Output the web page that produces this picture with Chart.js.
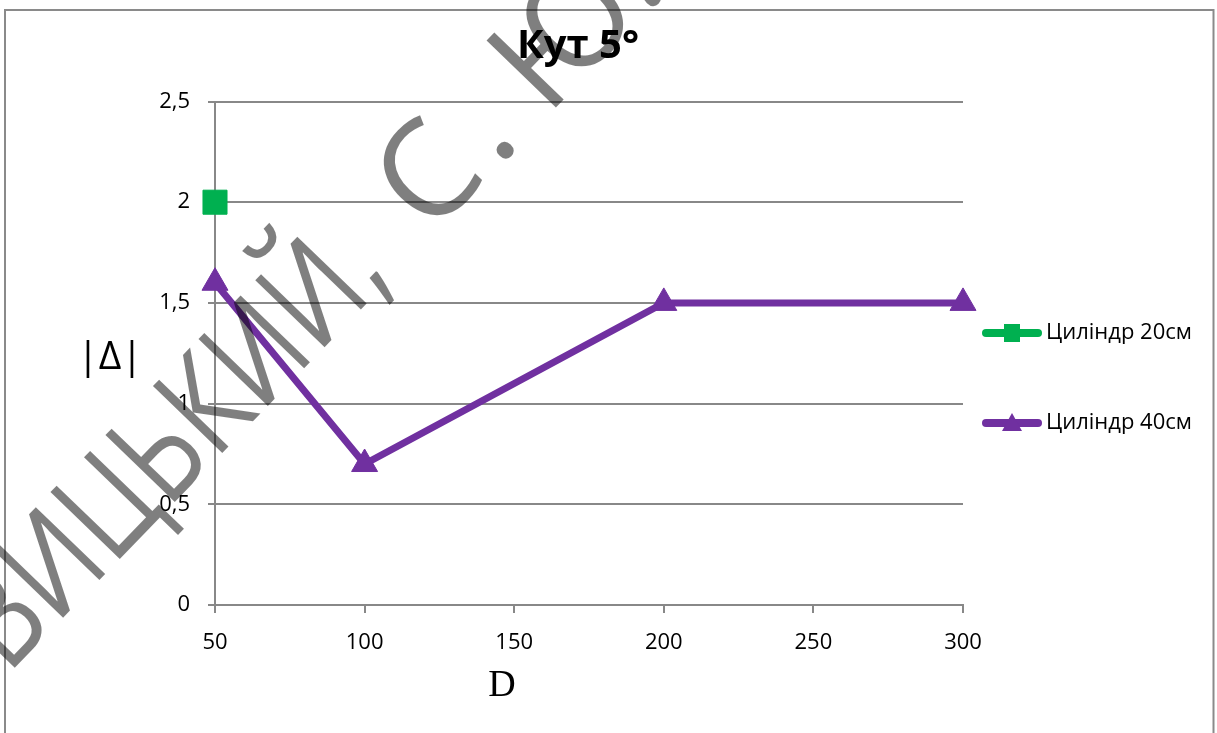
<!DOCTYPE html>
<html>
<head>
<meta charset="utf-8">
<script src="https://cdn.jsdelivr.net/npm/chart.js@4.4.1/dist/chart.umd.min.js"></script>
<style>
  html, body { margin: 0; padding: 0; background: #fff; overflow: hidden; }
</style>
</head>
<body>
<canvas id="chart" width="1217" height="733"></canvas>
<script>
// Texts
const chartTitle = 'Кут 5°';
const xAxisTitle = 'D';
const yAxisTitle = '|Δ|';
const seriesNames = ['Циліндр 20см', 'Циліндр 40см'];
const watermarkText = 'ВИЦЬКИЙ, С. Ю.';

// Data
const d20 = [50];
const v20 = [2];
const d40 = [50, 100, 200, 300];
const v40 = [1.6, 0.7, 1.5, 1.5];

// Axis ticks
const xTickValues = [50, 100, 150, 200, 250, 300];
const yTickValues = [0, 0.5, 1, 1.5, 2, 2.5];

const GREEN = '#00B050';
const PURPLE = '#7030A0';
const GRID = '#888888';
const FONT = "'Open Sans', sans-serif";

// Layout targets (plot area in pixels)
const plotLeft = 215, plotRight = 963, plotBottom = 605;
const legendFontSize = 22, legendPad = 68, legendBox = 4;

const measure = document.createElement('canvas').getContext('2d');
measure.font = legendFontSize + "px 'Open Sans'";
const legendTextW = Math.max(...seriesNames.map(s => measure.measureText(s).width));
const legendW = legendPad + legendBox + legendFontSize / 2 + legendTextW + 10;
const padRight = 1217 - plotRight - legendW;
const padLeft = padRight - 61; // keeps the title centred where it sits in the picture
const padTop = 23;

// legend sample: line with marker in the middle
function legendSample(color, style) {
  const c = document.createElement('canvas');
  c.width = 102; c.height = 26;
  const g = c.getContext('2d');
  g.strokeStyle = color;
  g.lineWidth = 8;
  g.lineCap = 'round';
  g.beginPath(); g.moveTo(4, 13); g.lineTo(56, 13); g.stroke();
  g.fillStyle = color;
  if (style === 'rect') {
    g.fillRect(22, 4, 16, 18);
  } else {
    g.beginPath(); g.moveTo(30, 3); g.lineTo(40, 21); g.lineTo(20, 21); g.closePath(); g.fill();
  }
  return c;
}
const samples = [legendSample(GREEN, 'rect'), legendSample(PURPLE, 'triangle')];

const extras = {
  id: 'extras',
  beforeDraw(chart) {
    const ctx = chart.ctx;
    ctx.save();
    ctx.fillStyle = '#fff';
    ctx.fillRect(0, 0, chart.width, chart.height);
    ctx.strokeStyle = '#8a8a8a';
    ctx.lineWidth = 2;
    ctx.strokeRect(5, 10, 1208.5, 760);
    ctx.restore();
  },
  afterDraw(chart) {
    const ctx = chart.ctx;
    ctx.save();
    ctx.fillStyle = '#000';
    ctx.textAlign = 'center';
    ctx.textBaseline = 'middle';
    ctx.font = '39px ' + FONT;
    ctx.fillText(yAxisTitle, 110, 358);
    ctx.font = "38px 'Liberation Serif', serif";
    ctx.fillText(xAxisTitle, 502, 686);

    // watermark over the chart, in pieces
    const cut = watermarkText.indexOf(',') + 1;
    const partA = watermarkText.slice(0, cut);
    const partB = watermarkText.slice(cut).trim();
    ctx.translate(510, 155);
    ctx.rotate(-46 * Math.PI / 180);
    ctx.font = '135px ' + FONT;
    ctx.fillStyle = 'rgba(0,0,0,0.5)';
    ctx.textAlign = 'left';
    ctx.textBaseline = 'alphabetic';
    const w = s => ctx.measureText(s).width;
    ctx.fillText(partB[0], -w(partB[0]) - w('.') / 2 - 12, 0);
    ctx.fillText(partB.slice(1), -w('.') / 2, 0);
    const c1 = w(partA[0]) + w(partA[1]) / 2;
    const c2 = w(partA.slice(0, -1)) + w(',') / 2;
    const sx = (613 - 182) / (c2 - c1);
    ctx.translate(-182, 0);
    ctx.scale(sx, 1);
    ctx.fillText(partA, -c2, 0);
    ctx.restore();
  }
};

new Chart(document.getElementById('chart'), {
  type: 'line',
  data: {
    datasets: [
      {
        label: seriesNames[0],
        data: d20.map((x, i) => ({ x: x, y: v20[i] })),
        borderColor: GREEN,
        backgroundColor: GREEN,
        borderWidth: 7,
        pointStyle: 'rect',
        pointRadius: 17,
        pointBorderWidth: 1,
        clip: false
      },
      {
        label: seriesNames[1],
        data: d40.map((x, i) => ({ x: x, y: v40[i] })),
        borderColor: PURPLE,
        backgroundColor: PURPLE,
        borderWidth: 7,
        borderCapStyle: 'round',
        pointStyle: 'triangle',
        pointRadius: 15,
        pointBorderWidth: 1,
        clip: false
      }
    ]
  },
  plugins: [extras],
  options: {
    responsive: false,
    animation: false,
    layout: { padding: { top: padTop, left: padLeft, right: padRight, bottom: 0 } },
    plugins: {
      tooltip: { enabled: false },
      title: {
        display: true,
        text: chartTitle,
        color: '#000',
        font: { family: FONT, size: 40, weight: 'bold' },
        padding: { top: 0, bottom: 30.5 }
      },
      legend: {
        position: 'right',
        align: 'center',
        labels: {
          usePointStyle: true,
          pointStyleWidth: legendBox,
          padding: legendPad,
          color: '#000',
          font: { family: FONT, size: legendFontSize },
          generateLabels(chart) {
            const items = Chart.defaults.plugins.legend.labels.generateLabels(chart);
            items.forEach((it, i) => { it.pointStyle = samples[i]; });
            return items;
          }
        }
      }
    },
    scales: {
      x: {
        type: 'linear',
        min: xTickValues[0],
        max: xTickValues[xTickValues.length - 1],
        afterBuildTicks(scale) { scale.ticks = xTickValues.map(v => ({ value: v })); },
        afterFit(scale) { scale.height = 733 - plotBottom; },
        border: { color: GRID, width: 2 },
        grid: { drawOnChartArea: false, drawTicks: true, tickLength: 8, color: GRID, lineWidth: 2 },
        ticks: { color: '#000', font: { family: FONT, size: 22 }, padding: 17, maxRotation: 0 }
      },
      y: {
        min: yTickValues[0],
        max: yTickValues[yTickValues.length - 1],
        afterBuildTicks(scale) { scale.ticks = yTickValues.map(v => ({ value: v })); },
        afterFit(scale) { scale.width = plotLeft - padLeft; },
        border: { color: GRID, width: 2 },
        grid: { color: GRID, lineWidth: 2, tickLength: 7 },
        ticks: {
          color: '#000',
          font: { family: FONT, size: 22 },
          padding: 18,
          callback: v => String(v).replace('.', ',')
        }
      }
    }
  }
});
</script>
</body>
</html>
